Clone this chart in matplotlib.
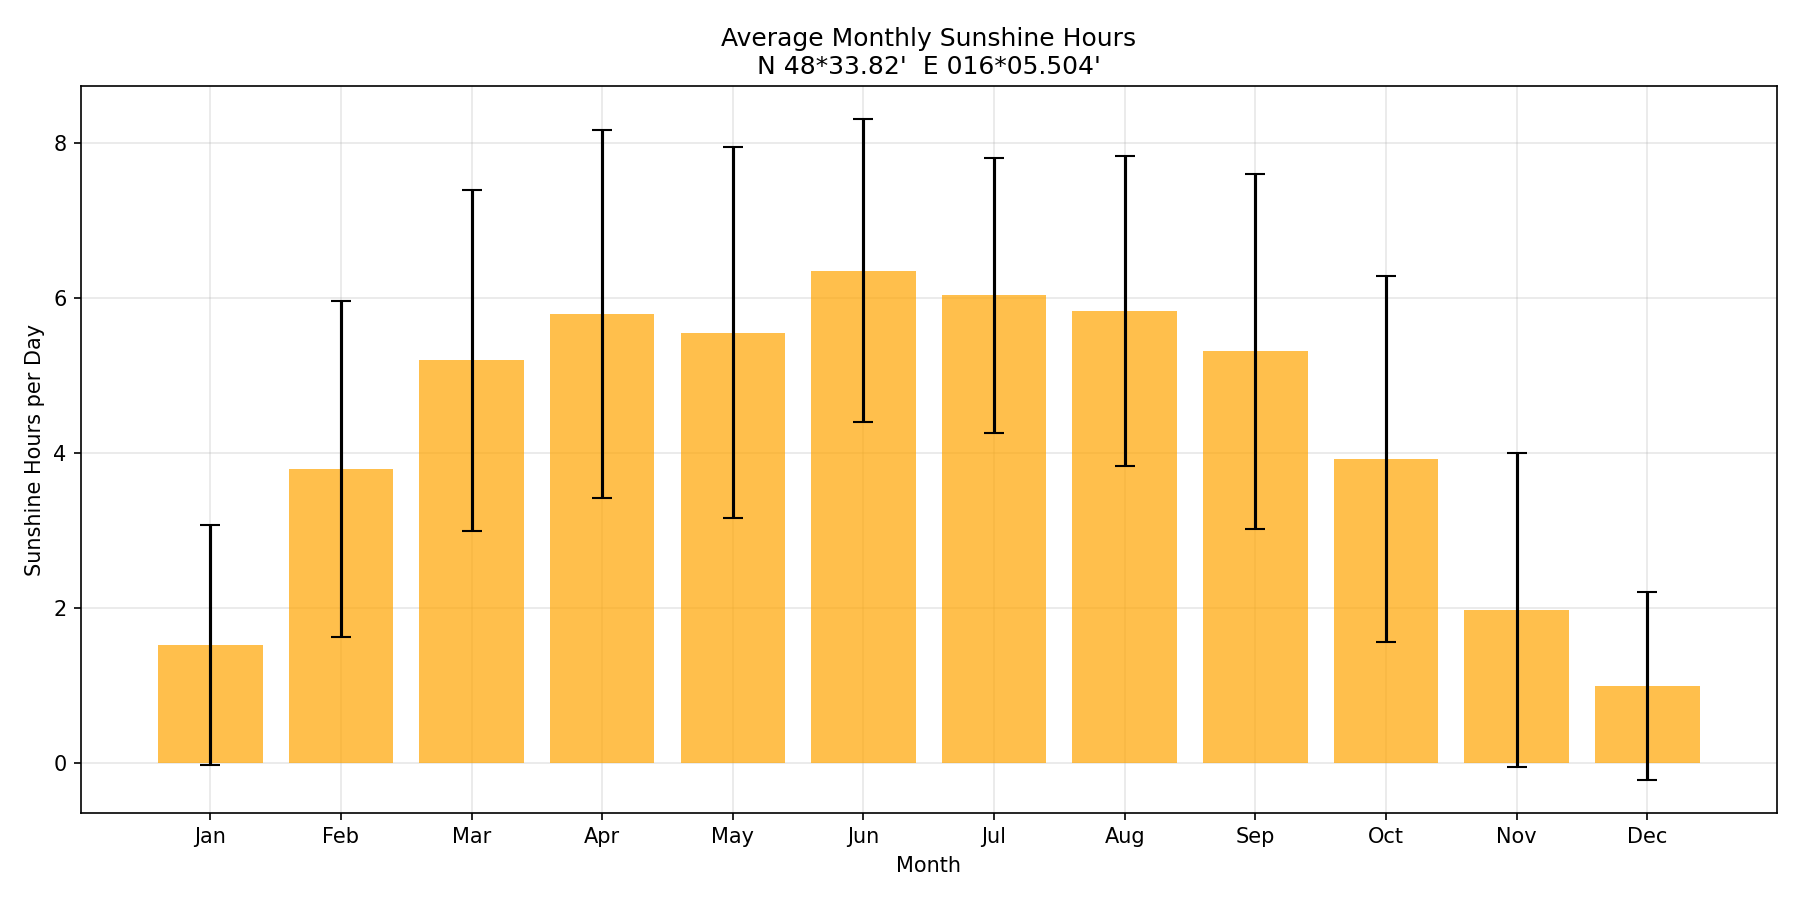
import matplotlib
matplotlib.use("Agg")
import matplotlib.pyplot as plt

months = ["Jan", "Feb", "Mar", "Apr", "May", "Jun",
          "Jul", "Aug", "Sep", "Oct", "Nov", "Dec"]
mean_hours = [1.53, 3.80, 5.20, 5.80, 5.56, 6.36, 6.04, 5.84, 5.32, 3.93, 1.98, 1.00]
std_hours = [1.55, 2.17, 2.20, 2.37, 2.39, 1.95, 1.77, 2.00, 2.29, 2.36, 2.02, 1.21]

fig, ax = plt.subplots(figsize=(12, 6), dpi=150)
ax.bar(months, mean_hours, yerr=std_hours, capsize=5, color="orange", alpha=0.7)
ax.set_title("Average Monthly Sunshine Hours\nN 48*33.82'  E 016*05.504'")
ax.set_xlabel("Month")
ax.set_ylabel("Sunshine Hours per Day")
ax.grid(True, alpha=0.3)
ax.set_axisbelow(True)
plt.subplots_adjust(left=0.045, right=0.987, top=0.904, bottom=0.097)
plt.savefig("out.png")
